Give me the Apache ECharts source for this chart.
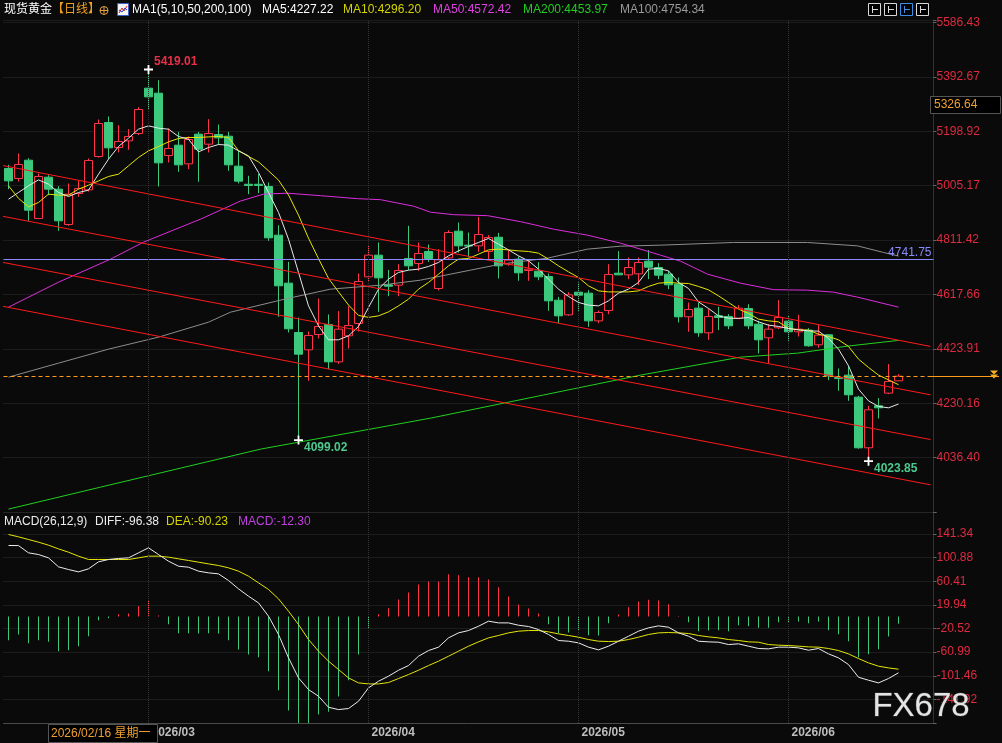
<!DOCTYPE html>
<html>
<head>
<meta charset="utf-8">
<title>现货黄金 日线</title>
<script src="https://cdn.jsdelivr.net/npm/echarts@6/dist/echarts.min.js"></script>
<style>
html, body { margin: 0; padding: 0; background: #0a0a0a; }
#main { width: 1002px; height: 743px; }
</style>
</head>
<body>
<div id="main"></div>
<script>
// daily bars, [open, close, low, high]
var candles = [
  [5066.3,5022.3,4992.7,5079.3],[5030.6,5080.5,5019.9,5119.7],[5095.9,4917.9,4879.9,5103.1],[4888.2,5037.8,4885.8,5048.5],
  [5035.4,4992.7,4971.3,5042.5],[4992.7,4879.9,4844.3,5003.4],[4866.8,4974.8,4862.0,5012.8],[4977.2,4995.0,4965.4,5022.3],
  [4990.3,5094.8,4984.3,5101.9],[5109.0,5226.5,5105.0,5240.8],[5230.1,5139.9,5099.5,5251.5],[5141.1,5162.4,5123.3,5220.6],
  [5164.8,5180.3,5132.8,5206.4],[5190.9,5276.4,5185.0,5284.7],[5352.4,5321.5,5277.6,5419.01],[5334.6,5086.4,5002.2,5380.9],
  [5112.6,5137.5,5087.6,5208.7],[5149.4,5079.3,5054.4,5196.9],[5082.9,5169.6,5063.9,5180.3],[5188.6,5135.1,5018.8,5196.9],
  [5152.9,5190.9,5123.3,5242.0],[5187.4,5175.5,5151.7,5223.0],[5181.4,5079.3,5058.0,5196.9],[5074.6,5021.2,5012.9,5129.2],
  [5010.1,5006.0,4974.9,5040.2],[5010.1,5006.0,4978.4,5046.1],[5002.2,4819.3,4808.6,5016.4],[4828.8,4648.4,4537.9,4864.4],
  [4657.9,4495.2,4482.1,4733.8],[4482.1,4404.9,4099.02,4535.6],[4420.4,4471.4,4310.0,4485.7],[4475.0,4503.5,4460.8,4603.2],
  [4510.6,4377.6,4351.5,4546.3],[4377.6,4494.0,4370.0,4558.1],[4470.3,4507.1,4425.1,4575.9],[4514.2,4663.8,4485.7,4692.3],
  [4680.4,4757.6,4665.0,4793.2],[4757.6,4676.8,4555.7,4802.7],[4651.9,4647.0,4611.5,4705.3],[4650.7,4703.0,4611.5,4725.5],
  [4745.7,4719.6,4704.1,4862.1],[4727.9,4763.5,4701.7,4802.7],[4770.6,4745.7,4733.8,4795.5],[4638.8,4740.9,4632.0,4778.9],
  [4748.0,4838.3,4743.3,4846.6],[4843.0,4790.8,4767.0,4873.9],[4793.2,4790.0,4749.2,4838.3],[4790.8,4831.1,4769.4,4894.1],
  [4770.6,4820.5,4743.3,4828.8],[4821.6,4719.5,4674.4,4837.1],[4725.5,4739.7,4719.5,4775.3],[4743.3,4694.6,4666.1,4752.8],
  [4702.9,4707.7,4666.1,4743.3],[4700.5,4680.4,4668.5,4732.6],[4681.5,4594.9,4559.3,4692.3],[4597.2,4541.4,4515.3,4609.1],
  [4545.0,4616.2,4541.4,4625.7],[4625.7,4615.1,4559.3,4660.2],[4622.2,4523.6,4502.3,4632.9],[4523.6,4553.3,4515.3,4560.5],
  [4560.5,4688.7,4547.4,4725.5],[4693.4,4687.5,4687.0,4772.0],[4687.5,4713.6,4672.0,4749.2],[4691.0,4731.4,4650.7,4749.2],
  [4736.2,4714.8,4672.1,4776.0],[4713.6,4686.3,4672.1,4729.1],[4689.9,4651.9,4636.4,4701.7],[4654.3,4538.0,4517.8,4678.1],
  [4538.0,4564.1,4484.6,4589.0],[4568.8,4481.0,4466.7,4589.0],[4481.0,4539.2,4456.0,4565.3],[4541.5,4535.6,4490.5,4573.6],
  [4539.2,4505.9,4494.0,4547.5],[4533.2,4568.8,4529.7,4579.5],[4567.7,4505.9,4494.0,4583.1],[4511.9,4456.0,4407.4,4523.7],
  [4463.2,4494.0,4371.8,4511.9],[4498.8,4535.6,4494.0,4597.3],[4522.5,4484.6,4452.5,4541.5],[4484.6,4494.0,4467.9,4545.1],
  [4490.5,4434.7,4431.1,4497.6],[4438.3,4472.7,4427.6,4511.9],[4473.9,4327.8,4312.4,4476.2],[4321.9,4318.0,4274.4,4353.9],
  [4330.2,4260.2,4238.8,4363.4],[4251.8,4071.4,4068.0,4256.6],[4071.4,4206.7,4023.85,4221.0],[4221.0,4213.9,4175.9,4248.3],
  [4266.1,4307.6,4262.5,4369.4],[4310.0,4326.5,4310.0,4333.8]
];

var ma5 = [4957.0,4980.9,5004.6,5025.8,5010.5,4980.9,4966.6,4980.9,4989.1,5046.1,
  5099.5,5144.7,5174.3,5206.4,5218.3,5209.9,5206.4,5180.3,5170.7,5125.5,
  5141.1,5151.7,5149.4,5129.1,5111.3,5052.1,4980.9,4909.7,4814.6,4696.0,
  4577.0,4505.8,4456.0,4456.0,4470.2,4503.6,4571.2,4636.5,4672.1,4696.0,
  4704.2,4707.7,4717.3,4731.6,4755.1,4772.9,4788.6,4802.8,4817.1,4796.7,
  4776.4,4755.1,4737.3,4707.7,4672.1,4636.5,4610.4,4589.1,4579.5,4577.0,
  4594.8,4622.2,4636.5,4660.4,4707.7,4710.2,4701.7,4660.4,4639.0,4591.3,
  4567.7,4541.4,4533.2,4532.1,4535.6,4520.0,4508.3,4503.6,4496.5,4491.5,
  4487.9,4486.9,4461.0,4422.8,4363.3,4280.3,4238.6,4218.7,4213.7,4227.22];

var ma10 = [5004.6,4960.0,4929.6,4945.3,4974.9,4971.3,4971.3,4992.7,5006.9,5022.2,
  5037.9,5046.1,5075.8,5105.6,5129.1,5144.7,5161.1,5173.3,5176.8,5176.8,
  5178.9,5180.3,5176.8,5130.0,5109.1,5090.0,5058.0,5025.0,4972.0,4900.0,
  4818.0,4745.0,4675.0,4627.0,4580.0,4543.0,4536.0,4541.4,4555.7,4577.0,
  4600.8,4636.5,4660.4,4689.9,4719.5,4743.3,4745.8,4761.1,4776.4,4778.9,
  4776.4,4772.9,4770.7,4764.7,4743.3,4719.5,4698.1,4678.1,4648.2,4630.4,
  4626.8,4626.8,4626.8,4630.4,4646.1,4657.8,4660.4,4657.8,4656.7,4646.1,
  4634.0,4612.6,4589.1,4565.3,4549.9,4529.7,4523.6,4520.0,4496.5,4491.5,
  4490.5,4476.2,4467.9,4456.0,4432.4,4387.2,4357.6,4330.2,4313.4,4296.20];

// slow averages read at a few bar positions [bar, value]
var ma50 = [[0,4572.4],[5,4661.4],[10.2,4743.3],[13.5,4803.9],[19.2,4885.8],[23.2,4950.4],[25.5,4974.9],
  [27.9,4978.4],[31.2,4969.5],[34.9,4958.8],[37.2,4955.3],[40.5,4932.1],[42.2,4910.7],[44.5,4901.8],
  [47.9,4898.3],[51.2,4876.9],[54.5,4850.2],[57.9,4828.8],[61.2,4800.3],[65.2,4757.6],[67.2,4736.2],
  [69.9,4689.9],[73.2,4657.8],[76.5,4634.7],[79.9,4632.9],[82.5,4625.8],[84.9,4608.0],[89,4572.42]];
var ma100 = [[0,4323.0],[5,4372.9],[10,4422.8],[15,4465.5],[20,4518.9],[22.2,4554.5],[27.9,4603.3],
  [32.2,4636.5],[37.2,4650.7],[41.2,4668.6],[46.2,4704.2],[49.2,4725.5],[53.9,4746.9],[57.9,4779.0],
  [61.2,4789.6],[65.2,4793.2],[72.5,4802.8],[79.9,4802.8],[84.9,4790.7],[87.5,4767.2],[89,4754.34]];
var ma200 = [[0,3852.9],[9.2,3931.2],[25.2,4066.6],[42.2,4177.0],[63.2,4330.2],[73.2,4394.3],
  [78.9,4408.5],[83.9,4433.5],[89,4453.97]];

// drawn channel, end points [bar, price]
var channels = [
  [[-0.8,5078.5],[92.2,4432.4]],
  [[-0.8,4897.6],[92.2,4260.0]],
  [[-0.8,4733.4],[92.2,4100.8]],
  [[-0.8,4577.0],[92.2,3939.4]]
];
var refLevel = 4741.75;
var lastPrice = 4326.5;

var diff = [121.7,121.5,109.1,106.2,100.5,85.1,80.5,76.5,81.7,93.7,
  97.7,99.4,100.5,109.1,117.7,106.2,94.8,86.2,84.5,77.7,
  74.8,73.1,61.7,47.4,34.8,23.4,0.6,-30.8,-70.8,-105.1,
  -125.1,-136.5,-155.4,-159.4,-157.6,-145.1,-122.2,-110.8,-102.2,-92.0,
  -84.0,-68.0,-58.3,-52.5,-36.6,-28.0,-24.0,-16.6,-8.0,-10.9,
  -10.9,-14.9,-17.1,-22.3,-30.8,-41.1,-42.3,-45.1,-52.5,-57.1,
  -50.8,-42.3,-33.7,-25.1,-19.4,-16.0,-18.3,-28.0,-33.7,-42.3,
  -43.4,-44.0,-48.0,-46.8,-50.8,-54.8,-55.4,-52.5,-52.5,-53.7,
  -57.7,-54.8,-64.0,-70.8,-82.3,-104.0,-109.1,-113.7,-106.2,-96.38];
var dea = [140.5,136.5,131.9,127.4,122.2,115.9,110.2,103.4,97.7,97.7,
  97.7,97.7,97.7,100.5,103.4,103.4,101.7,98.8,96.0,93.1,
  90.2,87.4,83.4,77.7,69.1,57.7,46.3,30.3,9.1,-13.7,
  -39.4,-59.4,-76.5,-90.8,-105.1,-113.7,-115.4,-115.4,-113.1,-106.2,
  -99.4,-92.0,-84.0,-76.5,-68.0,-59.4,-50.8,-43.4,-36.6,-32.5,
  -28.0,-25.1,-24.0,-24.0,-26.3,-29.7,-32.5,-35.4,-39.4,-42.3,
  -42.8,-42.3,-39.4,-35.4,-30.8,-28.0,-27.4,-28.0,-29.1,-32.5,
  -34.8,-36.6,-39.4,-41.1,-43.4,-44.0,-48.0,-49.1,-49.7,-50.8,
  -52.0,-52.5,-54.8,-58.3,-64.0,-72.0,-79.4,-85.1,-88.0,-90.23];
var macdHist = [-40.6,-30.8,-45.7,-40.6,-43.4,-59.4,-57.7,-50.8,-33.7,-6.3,
  -2.9,4.0,5.1,17.7,27.4,1.7,-13.1,-28.6,-28.6,-29.1,
  -28.6,-29.1,-40.6,-56.6,-65.1,-69.7,-93.7,-126.3,-161.1,-182.8,
  -182.8,-167.9,-163.3,-137.1,-109.1,-65.1,-20.0,4.0,14.3,29.1,
  41.1,54.8,60.0,60.0,72.5,70.8,67.4,67.4,63.4,50.0,
  34.3,20.6,13.7,5.1,-13.1,-28.6,-27.4,-23.4,-32.0,-32.6,
  -11.4,3.4,16.0,25.7,28.6,27.4,21.1,1.0,-9.7,-25.1,
  -24.0,-23.4,-25.1,-14.8,-16.6,-19.4,-19.4,-9.7,-9.7,-8.6,
  -11.4,-8.6,-23.4,-30.3,-42.3,-70.3,-64.5,-56.0,-34.3,-12.30];

var priceTicks = ['4036.40','4230.16','4423.91','4617.66','4811.42','5005.17','5198.92','5392.67','5586.43'];
var macdTicks = ['-141.92','-101.46','-60.99','-20.52','19.94','60.41','100.88','141.34'];

// trading days (Good Friday closed), plus a few empty slots on the right
var dates = [];
(function () {
  var d = new Date(Date.UTC(2026, 1, 10));
  while (dates.length < 93) {
    var wd = d.getUTCDay();
    var s = d.getUTCFullYear() + '/' + ('0' + (d.getUTCMonth() + 1)).slice(-2) + '/' + ('0' + d.getUTCDate()).slice(-2);
    if (wd !== 0 && wd !== 6 && s !== '2026/04/03') dates.push(s);
    d.setUTCDate(d.getUTCDate() + 1);
  }
})();
function isMonthStart(i) {
  return i > 0 && dates[i].slice(0, 7) !== dates[i - 1].slice(0, 7);
}
var monthLines = [];
dates.forEach(function (d, i) { if (isMonthStart(i)) monthLines.push({ xAxis: d }); });

function pickLabel(list, v) {
  for (var i = 0; i < list.length; i++) {
    if (Math.abs(parseFloat(list[i]) - v) < 1) return list[i];
  }
  return '';
}

var FONT = '"Liberation Sans", "Noto Sans CJK SC", sans-serif';
var UP = '#ff3448', DOWN = '#3cc97e';
var gridLine = { show: true, lineStyle: { color: '#2e2e2e', type: 'dotted', width: 1 } };
function monthMark() {
  return {
    silent: true, symbol: 'none', label: { show: false },
    lineStyle: { color: '#363636', type: 'dotted', width: 1 },
    data: monthLines.slice()
  };
}

var chart = echarts.init(document.getElementById('main'), null, { renderer: 'canvas' });

function lineSeries(name, data, color, xIdx, extra) {
  var s = {
    name: name, type: 'line', data: data, xAxisIndex: xIdx, yAxisIndex: 0,
    symbol: 'none', silent: true, smooth: false,
    lineStyle: { color: color, width: 1 }
  };
  for (var k in extra) s[k] = extra[k];
  return s;
}

var series = [
  {
    name: 'K', type: 'candlestick', xAxisIndex: 0, yAxisIndex: 0,
    data: candles, barWidth: 8, silent: true,
    itemStyle: { color: '#0a0a0a', color0: DOWN, borderColor: UP, borderColor0: DOWN, borderWidth: 1 },
    markPoint: {
      symbol: 'path://M4,0h2v10h-2zM0,4h10v2h-10z', symbolSize: 9,
      itemStyle: { color: '#ffffff' }, silent: true,
      label: { show: true, position: 'right', distance: 1, fontFamily: FONT, fontSize: 12, fontWeight: 'bold' },
      data: [
        { coord: [dates[14], 5419.01], value: 5419.01, label: { color: '#e8304a', offset: [0, -8], formatter: '5419.01' } },
        { coord: [dates[29], 4099.02], value: 4099.02, label: { color: '#4cc98e', offset: [0, 8], formatter: '4099.02' } },
        { coord: [dates[86], 4023.85], value: 4023.85, label: { color: '#4cc98e', offset: [0, 8], formatter: '4023.85' } }
      ]
    },
    markLine: {
      silent: true, symbol: 'none', label: { show: false },
      lineStyle: { color: '#ff9a1a', type: [4, 3], width: 1 },
      data: [{ yAxis: lastPrice }]
    }
  },
  lineSeries('MA200', ma200, '#1fd11f', 1, { clip: false }),
  lineSeries('MA100', ma100, '#8c8c8c', 1, {
    markLine: {
      silent: true, symbol: 'none',
      lineStyle: { color: '#8a8aff', type: 'solid', width: 1 },
      label: { show: true, position: 'insideEndTop', formatter: '4741.75', color: '#8a8aff', fontFamily: FONT, fontSize: 12, distance: [2, 1] },
      data: [{ yAxis: refLevel }]
    }
  }),
  lineSeries('MA50', ma50, '#dd2ddd', 1, {}),
  lineSeries('MA10', ma10, '#e6e600', 0, {}),
  lineSeries('MA5', ma5, '#e8e8e8', 0, { markLine: monthMark() })
];
channels.forEach(function (c, i) {
  series.push(lineSeries('ch' + i, c, '#ff1a1a', 1, { clip: false }));
});
series.push({
  name: 'MACD', type: 'bar', xAxisIndex: 2, yAxisIndex: 1, data: macdHist,
  barWidth: 1, silent: true,
  itemStyle: { color: function (p) { return p.value >= 0 ? UP : DOWN; } }
});
series.push({
  name: 'DEA', type: 'line', xAxisIndex: 2, yAxisIndex: 1, data: dea,
  symbol: 'none', silent: true, lineStyle: { color: '#e6e600', width: 1 }
});
series.push({
  name: 'DIFF', type: 'line', xAxisIndex: 2, yAxisIndex: 1, data: diff,
  symbol: 'none', silent: true, lineStyle: { color: '#ececec', width: 1 },
  markLine: monthMark()
});

var yLabel = { color: '#e02a40', fontFamily: FONT, fontSize: 12, margin: 3 };

chart.setOption({
  backgroundColor: '#0a0a0a',
  animation: false,
  grid: [
    { left: 3.5, right: 68.5, top: 20, height: 492, outerBoundsMode: 'none' },
    { left: 3.5, right: 68.5, top: 512, height: 211, outerBoundsMode: 'none' }
  ],
  xAxis: [
    { type: 'category', gridIndex: 0, data: dates, boundaryGap: true,
      axisLine: { show: false }, axisTick: { show: false }, axisLabel: { show: false }, splitLine: { show: false } },
    { type: 'value', gridIndex: 0, min: -0.5, max: 92.5, show: false },
    { type: 'category', gridIndex: 1, data: dates, boundaryGap: true,
      axisLine: { show: true, onZero: false, lineStyle: { color: '#4a4a4a' } },
      axisTick: { show: false }, splitLine: { show: false },
      axisLabel: {
        interval: function (i) { return isMonthStart(i); },
        formatter: function (v) { return v.slice(0, 7); },
        align: 'left', padding: [0, 0, 0, 3], margin: 4,
        color: '#bdbdbd', fontWeight: 'bold', fontFamily: FONT, fontSize: 12
      } }
  ],
  yAxis: [
    { type: 'value', gridIndex: 0, position: 'right', min: 3842.65, max: 5595.3, interval: 193.7533,
      axisLine: { show: true, onZero: false, lineStyle: { color: '#333' } },
      axisTick: { show: true, length: 3, lineStyle: { color: '#666' } },
      splitLine: gridLine,
      axisLabel: Object.assign({ formatter: function (v) { return pickLabel(priceTicks, v); } }, yLabel) },
    { type: 'value', gridIndex: 1, position: 'right', min: -182.39, max: 179.04, interval: 40.4657,
      axisLine: { show: true, onZero: false, lineStyle: { color: '#333' } },
      axisTick: { show: true, length: 3, lineStyle: { color: '#666' } },
      splitLine: gridLine,
      axisLabel: Object.assign({ formatter: function (v) { return pickLabel(macdTicks, v); } }, yLabel) }
  ],
  series: series
});

// header texts, readout boxes, price marker on the axis, watermark
var lastY = Math.round(chart.convertToPixel({ yAxisIndex: 0 }, lastPrice)) + 0.5;
function txt(x, y, s, color, size) {
  return { type: 'text', x: x, y: y, z: 100, silent: true,
    style: { text: s, fill: color, font: (size || 12) + 'px ' + FONT, textVerticalAlign: 'middle' } };
}
function box(x, y, w, h, stroke) {
  return { type: 'rect', z: 99, silent: true, shape: { x: x + 0.5, y: y + 0.5, width: w, height: h },
    style: { fill: '#000', stroke: stroke || '#555', lineWidth: 1 } };
}
var g = [
  txt(4, 10, '现货黄金', '#ffffff'),
  txt(52, 10, '【日线】', '#f0a020'),
  { type: 'circle', z: 100, shape: { cx: 104, cy: 10.5, r: 4 }, style: { fill: 'none', stroke: '#e0a040', lineWidth: 1 } },
  { type: 'line', z: 100, shape: { x1: 100, y1: 10.5, x2: 108, y2: 10.5 }, style: { stroke: '#e0a040' } },
  { type: 'line', z: 100, shape: { x1: 104, y1: 6.5, x2: 104, y2: 14.5 }, style: { stroke: '#e0a040' } },
  { type: 'rect', z: 100, shape: { x: 117.5, y: 3.5, width: 11, height: 12 }, style: { fill: '#f4f4f4', stroke: '#4060c0' } },
  { type: 'polyline', z: 101, shape: { points: [[119, 13], [122, 8], [124, 11], [127, 6]] }, style: { stroke: '#e02020', fill: 'none' } },
  { type: 'polyline', z: 101, shape: { points: [[119, 10], [122, 12], [125, 8], [127, 10]] }, style: { stroke: '#2040d0', fill: 'none' } },
  txt(132, 10, 'MA1(5,10,50,200,100)', '#ffffff'),
  txt(262, 10, 'MA5:4227.22', '#ffffff'),
  txt(343, 10, 'MA10:4296.20', '#d4d400'),
  txt(433, 10, 'MA50:4572.42', '#e040e0'),
  txt(523, 10, 'MA200:4453.97', '#22cc22'),
  txt(620, 10, 'MA100:4754.34', '#9a9a9a'),

  txt(4, 522, 'MACD(26,12,9)', '#ececec'),
  txt(95, 522, 'DIFF:-96.38', '#ececec'),
  txt(166, 522, 'DEA:-90.23', '#d4d400'),
  txt(238, 522, 'MACD:-12.30', '#c040e0'),

  box(930, 96, 70, 17),
  txt(934, 105, '5326.64', '#f0a030'),
  box(48, 724, 109, 18),
  txt(51, 733.5, '2026/02/16 星期一', '#f0a030'),

  { type: 'line', z: 98, silent: true, shape: { x1: 930, y1: lastY, x2: 999, y2: lastY }, style: { stroke: '#ff9a1a', lineWidth: 1 } },
  { type: 'polygon', z: 100, silent: true, shape: { points: [[990, lastY - 6], [998, lastY - 6], [994, lastY - 2]] }, style: { fill: '#f0b020' } },
  { type: 'polygon', z: 100, silent: true, shape: { points: [[990, lastY - 2], [998, lastY - 2], [994, lastY + 2]] }, style: { fill: '#f0b020' } },

  { type: 'text', x: 921, y: 707, z: 100, silent: true,
    style: { text: 'FX678', fill: '#e4e4e4', stroke: '#3a3a3a', lineWidth: 1,
      font: '33px ' + FONT, textAlign: 'center', textVerticalAlign: 'middle' } }
];
// toolbar squares, top right
[868, 884, 900, 916].forEach(function (x, i) {
  var c = i === 2 ? '#3a8ee6' : '#d8d8d8';
  g.push({ type: 'rect', z: 100, silent: true, shape: { x: x + 0.5, y: 3.5, width: 12, height: 12 }, style: { fill: '#000', stroke: c } });
  g.push({ type: 'line', z: 101, silent: true, shape: { x1: x + 4.5, y1: 6, x2: x + 4.5, y2: 13 }, style: { stroke: c } });
  g.push({ type: 'line', z: 101, silent: true, shape: { x1: x + 4, y1: 9.5, x2: x + 10, y2: 9.5 }, style: { stroke: c } });
});
chart.setOption({ graphic: g });
</script>
</body>
</html>
